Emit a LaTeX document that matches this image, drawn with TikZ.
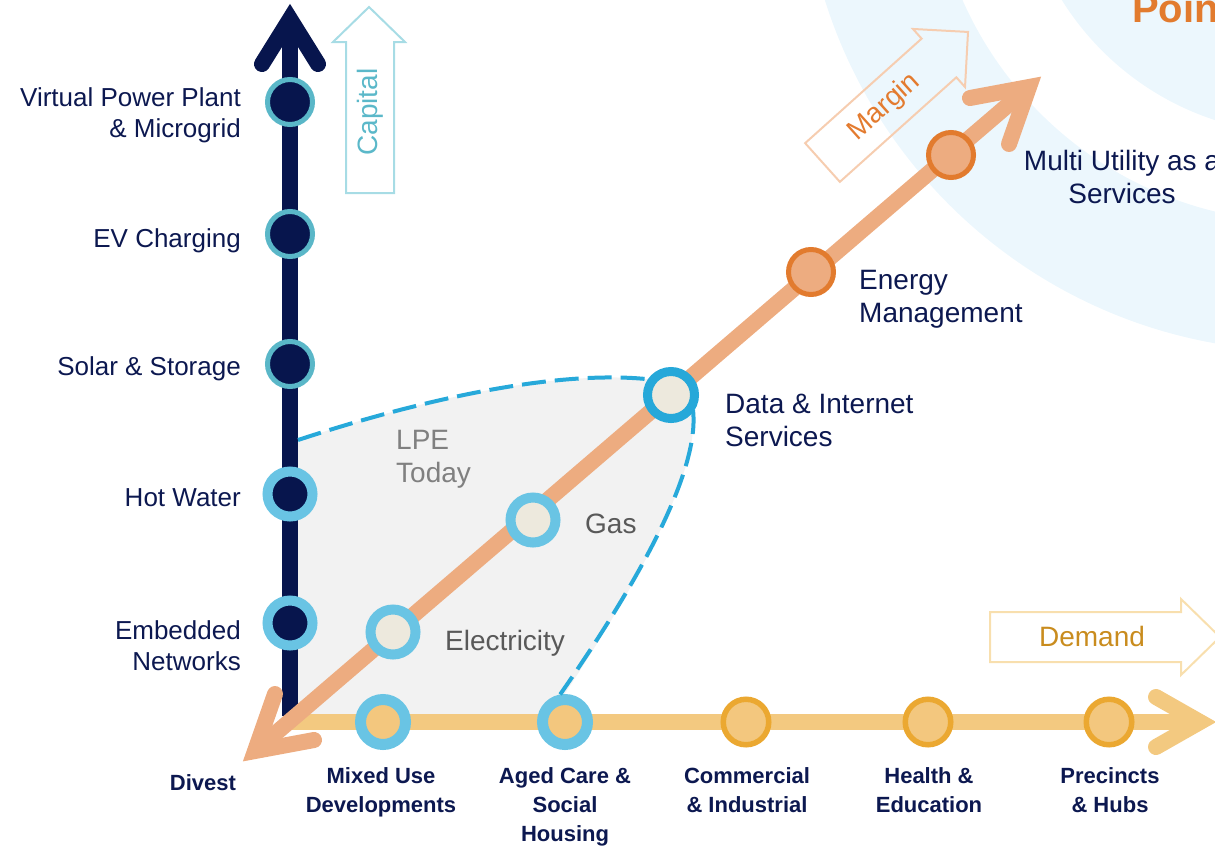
\documentclass[tikz,border=0pt]{standalone}
\usepackage{fontspec}
\setmainfont{Liberation Sans}
\definecolor{navyc}{HTML}{07154D}
\definecolor{txtnavy}{HTML}{0C1850}
\definecolor{tealring}{HTML}{5AB7C8}
\definecolor{blring}{HTML}{69C4E4}
\definecolor{dataring}{HTML}{26A8D9}
\definecolor{beige}{HTML}{EDE9DD}
\definecolor{orline}{HTML}{EDAC80}
\definecolor{orring}{HTML}{E27B2E}
\definecolor{goldline}{HTML}{F3C980}
\definecolor{goldfill}{HTML}{F3C77E}
\definecolor{goldring}{HTML}{EBA831}
\definecolor{lpefill}{HTML}{F2F2F2}
\definecolor{dashc}{HTML}{27A9DA}
\definecolor{bgblue}{HTML}{ECF7FD}
\definecolor{capline}{HTML}{A7DCE5}
\definecolor{captext}{HTML}{5BB8C9}
\definecolor{marline}{HTML}{F6CDB0}
\definecolor{martext}{HTML}{E37B2F}
\definecolor{demline}{HTML}{F8DFAE}
\definecolor{demtext}{HTML}{C98C1E}
\definecolor{greytext}{HTML}{808080}
\definecolor{darkgrey}{HTML}{595959}
\newcommand\sidefont{\fontsize{26}{31}\selectfont}
\newcommand\diagfont{\fontsize{28}{33}\selectfont}
\newcommand\basefont{\bfseries\fontsize{22}{29}\selectfont}
\begin{document}
\begin{tikzpicture}[x=1pt,y=-1pt,
  axisline/.style={line width=16pt},
  chevron/.style={line width=16pt, line cap=round, line join=miter, miter limit=20},
  dot/.style={circle, inner sep=0pt, minimum size=45pt},
  navydot/.style={dot, fill=navyc, draw=tealring, line width=5pt},
  navybig/.style={dot, fill=navyc, draw=blring, line width=10pt},
  lpedot/.style={dot, fill=beige, draw=blring, line width=10pt},
  datadot/.style={dot, minimum size=47pt, fill=beige, draw=dataring, line width=9pt},
  ordot/.style={dot, fill=orline, draw=orring, line width=5pt},
  golddot/.style={dot, fill=goldfill, draw=blring, line width=11pt},
  goldring/.style={dot, minimum size=45.5pt, fill=goldfill, draw=goldring, line width=5.5pt},
  outline/.style={line width=2pt, line join=miter},
  sidelbl/.style={anchor=east, align=right, inner sep=0pt, text=txtnavy, font=\sidefont},
  diaglbl/.style={inner sep=0pt, text=txtnavy, font=\diagfont},
  greylbl/.style={anchor=west, align=left, inner sep=0pt, font=\diagfont},
  baselbl/.style={anchor=north, align=center, inner sep=0pt, text=txtnavy, font=\basefont}
]
\useasboundingbox (0,0) rectangle (1215,846);
\clip (0,0) rectangle (1215,846);

% background rings behind the upper right corner
\fill[bgblue, even odd rule] (1303,-150) circle[radius=501] (1303,-150) circle[radius=372];
\fill[bgblue] (1303,-150) circle[radius=284];
\node[anchor=base west, inner sep=0pt, text=orring, font=\bfseries\fontsize{40}{44}\selectfont] (title) at (1132,22) {Point};

% positions of the circles on the three axes
\coordinate (pvpp) at (290,102);
\coordinate (pev) at (290,234);
\coordinate (psolar) at (290,364);
\coordinate (phot) at (290,494);
\coordinate (pemb) at (290,623);
\coordinate (pelec) at (393,632);
\coordinate (pgas) at (533,520);
\coordinate (pdata) at (671,395);
\coordinate (penergy) at (811,272);
\coordinate (pmulti) at (951,155);
\coordinate (pmixed) at (383,722);
\coordinate (paged) at (565,722);
\coordinate (pcomm) at (746,722);
\coordinate (phealth) at (928,722);
\coordinate (pprec) at (1109,722);

% LPE today region
\fill[lpefill] (290,440) -- (298,440) .. controls (420,400) and (560,368) .. (655,380)
  -- (693,410) .. controls (700,470) and (640,580) .. (562,698) -- (562,722) -- (290,722) -- cycle;

% outline arrows: Capital, Margin, Demand
\draw[outline, capline] (346,193) -- (346,42) -- (333,42) -- (369,7) -- (405,42) -- (394,42) -- (394,193) -- cycle;
\node[rotate=90, text=captext, font=\diagfont, inner sep=0pt] (capital) at (370,112) {Capital};
\begin{scope}[shift={(822.5,162.5)}, rotate=41.9]
  \draw[outline, marline] (0,-26) -- (156.5,-26) -- (156.5,-39) -- (195.5,0) -- (156.5,39) -- (156.5,26) -- (0,26) -- cycle;
  \node[rotate=41.9, text=martext, font=\diagfont, inner sep=0pt] (margin) at (83,0) {Margin};
\end{scope}
\draw[outline, demline] (990,612) -- (1181,612) -- (1181,599) -- (1220,637) -- (1181,675) -- (1181,662) -- (990,662) -- cycle;
\node[text=demtext, font=\diagfont, inner sep=0pt] (demand) at (1092,636.5) {Demand};

% vertical capital axis
\coordinate (vtop) at (290,19);
\coordinate (vbot) at (290,716);
\coordinate (vl) at (262,64);
\coordinate (vr) at (318,64);
\draw[axisline, navyc] (vbot) -- (vtop);
\draw[chevron, navyc] (vl) -- (vtop) -- (vr);

% horizontal demand axis
\coordinate (hstart) at (291,722);
\coordinate (htip) at (1200,722);
\coordinate (hu) at (1156,697);
\coordinate (hd) at (1156,747);
\draw[axisline, goldline] (hstart) -- (htip);
\draw[chevron, goldline] (hu) -- (htip) -- (hd);

% diagonal margin axis
\coordinate (dbot) at (255,751);
\coordinate (dtop) at (1029,87);
\coordinate (dtu) at (970,98);
\coordinate (dtd) at (1009,144);
\coordinate (dbu) at (275,694);
\coordinate (dbd) at (314,740);
\draw[axisline, orline] (dbot) -- (dtop);
\draw[chevron, orline] (dtu) -- (dtop) -- (dtd);
\draw[chevron, orline] (dbu) -- (dbot) -- (dbd);

% circles
\node[navydot] (vpp) at (pvpp) {};
\node[navydot] (ev) at (pev) {};
\node[navydot] (solar) at (psolar) {};
\node[navybig] (hot) at (phot) {};
\node[navybig] (emb) at (pemb) {};
\node[lpedot] (elec) at (pelec) {};
\node[lpedot] (gas) at (pgas) {};
\node[ordot] (energy) at (penergy) {};
\node[ordot] (multi) at (pmulti) {};
\node[golddot] (mixed) at (pmixed) {};
\node[golddot] (aged) at (paged) {};
\node[goldring] (comm) at (pcomm) {};
\node[goldring] (health) at (phealth) {};
\node[goldring] (prec) at (pprec) {};

% dashed boundary of the LPE today region
\coordinate (lpestart) at (298,440);
\draw[dashc, line width=4pt, dash pattern=on 24pt off 9pt] (lpestart) .. controls (420,400) and (560,368) .. (655,380);
\draw[dashc, line width=4pt, dash pattern=on 24pt off 9pt] (693,410) .. controls (700,470) and (640,580) .. (aged.100);
\node[datadot] (data) at (pdata) {};

% labels of the capital axis
\node[sidelbl] (lvpp) at (241,115) {Virtual Power Plant\\\& Microgrid};
\node[sidelbl] (lev) at (241,240.5) {EV Charging};
\node[sidelbl] (lsolar) at (241,368.5) {Solar \& Storage};
\node[sidelbl] (lhot) at (241,497.5) {Hot Water};
\node[sidelbl] (lemb) at (241,646) {Embedded\\Networks};

% labels of the margin axis
\node[diaglbl, anchor=west, align=left] (ldata) at (725,420) {Data \& Internet\\Services};
\node[diaglbl, anchor=west, align=left] (lenergy) at (859,299) {Energy\\Management};
\node[diaglbl, align=center] (lmulti) at (1122,177) {Multi Utility as a\\Services};

% labels inside the LPE region
\node[greylbl, text=greytext] (llpe) at (396,459.5) {LPE\\Today};
\node[greylbl, text=darkgrey] (lgas) at (585,524) {Gas};
\node[greylbl, text=darkgrey] (lelec) at (445,643) {Electricity};

% labels of the demand axis
\node[baselbl] (ldivest) at (203,774) {Divest};
\node[baselbl] (lmixed) at (381,767) {Mixed Use\\Developments};
\node[baselbl] (laged) at (565,767) {Aged Care \&\\Social\\Housing};
\node[baselbl] (lcomm) at (747,767) {Commercial\\\& Industrial};
\node[baselbl] (lhealth) at (929,767) {Health \&\\Education};
\node[baselbl] (lprec) at (1110,767) {Precincts\\\& Hubs};
\end{tikzpicture}
\end{document}
